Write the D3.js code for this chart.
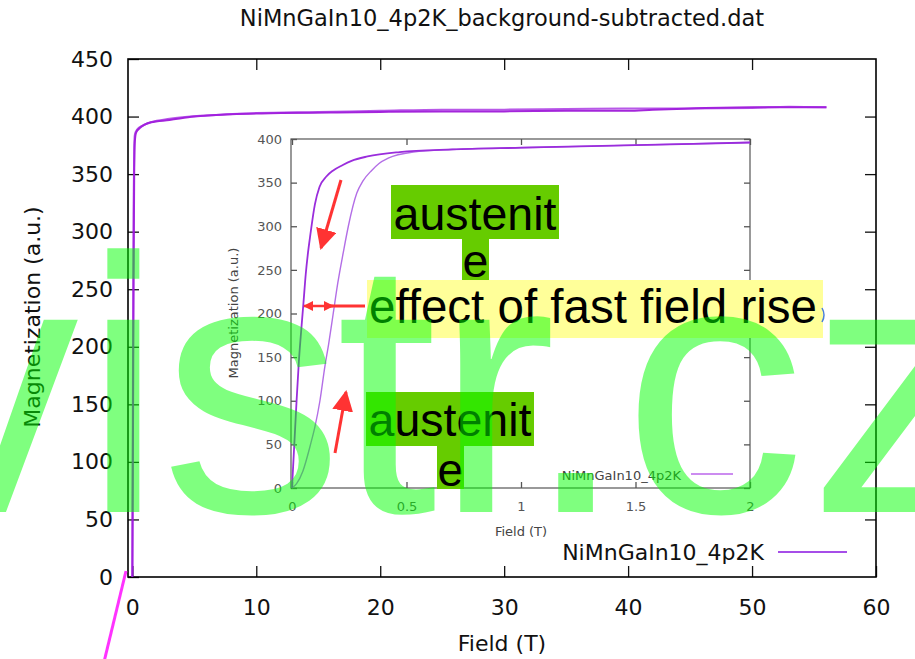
<!DOCTYPE html>
<html>
<head>
<meta charset="utf-8">
<script src="https://cdn.jsdelivr.net/npm/d3@7"></script>
<style>
  html, body { margin: 0; padding: 0; background: #fff; }
  svg { display: block; }
</style>
</head>
<body>
<script>
// --- data ---
const mainXTicks = [0, 10, 20, 30, 40, 50, 60];
const mainYTicks = [0, 50, 100, 150, 200, 250, 300, 350, 400, 450];
const insetXTicks = [0, 0.5, 1, 1.5, 2];
const insetYTicks = [0, 50, 100, 150, 200, 250, 300, 350, 400];

// full pulse, rising and falling branch
const mainUpField = [0, 0.05, 0.1, 0.15, 0.2, 0.3, 0.6, 1, 1.5, 3, 5, 8, 12, 16, 20, 25, 30, 35, 40, 42, 45, 50, 53, 56];
const mainUpMag   = [0, 120, 260, 350, 378, 386, 390, 393, 395, 397, 400, 402, 403, 403.5, 404, 404.5, 404.5, 405, 405, 406, 407, 408, 408, 408];
const mainDownField = [0, 0.05, 0.1, 0.15, 0.2, 0.4, 0.8, 1.5, 3, 6, 10, 15, 20, 25, 30, 35, 40, 45, 50, 53, 56];
const mainDownMag   = [0, 180, 320, 372, 384, 389, 392, 395, 398, 401, 403, 404, 405, 406, 406, 406.5, 407, 407, 407.5, 408.5, 408];

// zoom of the low-field part
const insetUpField = [0, 0.02, 0.047, 0.08, 0.1, 0.122, 0.144, 0.16, 0.18, 0.2, 0.224, 0.246, 0.283, 0.31, 0.348, 0.38, 0.42, 0.53, 0.7, 1, 1.5, 2];
const insetUpMag   = [0, 5, 19, 49, 70, 100, 140, 165, 200, 235, 270, 300, 338, 352, 364, 372, 378, 385, 388, 390, 393, 396];
const insetDownField = [0, 0.01, 0.02, 0.03, 0.04, 0.05, 0.06, 0.07, 0.08, 0.1, 0.12, 0.15, 0.18, 0.22, 0.26, 0.33, 0.47, 0.7, 1, 1.5, 2];
const insetDownMag   = [0, 50, 100, 145, 180, 212, 245, 270, 290, 325, 345, 357, 364, 370, 375, 380, 385, 388, 390, 393, 396];

const seriesName = "NiMnGaIn10_4p2K";
const titleText = "NiMnGaIn10_4p2K_background-subtracted.dat";

const width = 915;
const height = 659;
const mainFont = "DejaVu Sans, sans-serif";

const svg = d3.select("body").append("svg")
  .attr("width", width)
  .attr("height", height);

// ---------- main plot ----------
const main = { left: 128, right: 876, top: 59, bottom: 577 };
const x = d3.scaleLinear().domain([-0.35, 60]).range([main.left, main.right]);
const y = d3.scaleLinear().domain([0, 450]).range([main.bottom, main.top]);

function styleAxis(g, color, size) {
  g.select(".domain").remove();
  g.selectAll("line").attr("stroke", color).attr("stroke-width", 1.3);
  g.selectAll("text").attr("fill", color).style("font-family", mainFont).style("font-size", size + "px");
}

svg.append("g")
  .attr("transform", `translate(0,${main.bottom})`)
  .call(d3.axisBottom(x).tickValues(mainXTicks).tickSizeInner(-11).tickSizeOuter(0).tickPadding(22))
  .call(g => styleAxis(g, "#111", 22));
svg.append("g")
  .attr("transform", `translate(0,${main.top})`)
  .call(d3.axisTop(x).tickValues(mainXTicks.slice(1, -1)).tickSizeInner(-11).tickSizeOuter(0).tickFormat(""))
  .call(g => styleAxis(g, "#111", 22));
svg.append("g")
  .attr("transform", `translate(${main.left},0)`)
  .call(d3.axisLeft(y).tickValues(mainYTicks).tickSizeInner(-11).tickSizeOuter(0).tickPadding(15))
  .call(g => styleAxis(g, "#111", 22));
svg.append("g")
  .attr("transform", `translate(${main.right},0)`)
  .call(d3.axisRight(y).tickValues(mainYTicks.slice(1, -1)).tickSizeInner(-11).tickSizeOuter(0).tickFormat(""))
  .call(g => styleAxis(g, "#111", 22));

svg.append("rect")
  .attr("x", main.left).attr("y", main.top)
  .attr("width", main.right - main.left).attr("height", main.bottom - main.top)
  .attr("fill", "none").attr("stroke", "#000").attr("stroke-width", 1.6);

const mainLine = d3.line().x(d => x(d[0])).y(d => y(d[1])).curve(d3.curveMonotoneX);
svg.append("path")
  .datum(d3.zip(mainUpField, mainUpMag))
  .attr("d", mainLine)
  .attr("fill", "none").attr("stroke", "#9400d3").attr("stroke-width", 2).attr("stroke-opacity", 0.85);
svg.append("path")
  .datum(d3.zip(mainDownField, mainDownMag))
  .attr("d", mainLine)
  .attr("fill", "none").attr("stroke", "#a020e0").attr("stroke-width", 2).attr("stroke-opacity", 0.75);

// titles
svg.append("text")
  .attr("x", 502).attr("y", 26)
  .attr("text-anchor", "middle")
  .style("font-family", mainFont).style("font-size", "22.5px").attr("fill", "#111")
  .text(titleText);
svg.append("text")
  .attr("x", 502).attr("y", 651)
  .attr("text-anchor", "middle")
  .style("font-family", mainFont).style("font-size", "22px").attr("fill", "#111")
  .text("Field (T)");
svg.append("text")
  .attr("transform", "translate(40,317) rotate(-90)")
  .attr("text-anchor", "middle")
  .style("font-family", mainFont).style("font-size", "22px").attr("fill", "#111")
  .text("Magnetization (a.u.)");

// main legend
svg.append("text")
  .attr("x", 764).attr("y", 560)
  .attr("text-anchor", "end")
  .style("font-family", mainFont).style("font-size", "22px").attr("fill", "#111")
  .text(seriesName);
svg.append("line")
  .attr("x1", 778).attr("x2", 847).attr("y1", 552).attr("y2", 552)
  .attr("stroke", "#a64ee8").attr("stroke-width", 2);

// ---------- inset ----------
const ins = { left: 291, right: 750, top: 139, bottom: 488 };
const ix = d3.scaleLinear().domain([0, 2]).range([ins.left + 1, ins.right]);
const iy = d3.scaleLinear().domain([0, 400]).range([ins.bottom, ins.top]);
const insetColor = "#555";

svg.append("g")
  .attr("transform", `translate(0,${ins.bottom})`)
  .call(d3.axisBottom(ix).tickValues(insetXTicks).tickSizeInner(-6).tickSizeOuter(0).tickPadding(14).tickFormat(d3.format("~g")))
  .call(g => styleAxis(g, insetColor, 13));
svg.append("g")
  .attr("transform", `translate(0,${ins.top})`)
  .call(d3.axisTop(ix).tickValues(insetXTicks).tickSizeInner(-6).tickSizeOuter(0).tickFormat(""))
  .call(g => styleAxis(g, insetColor, 13));
svg.append("g")
  .attr("transform", `translate(${ins.left},0)`)
  .call(d3.axisLeft(iy).tickValues(insetYTicks).tickSizeInner(-6).tickSizeOuter(0).tickPadding(9))
  .call(g => styleAxis(g, insetColor, 13));
svg.append("g")
  .attr("transform", `translate(${ins.right},0)`)
  .call(d3.axisRight(iy).tickValues(insetYTicks).tickSizeInner(-6).tickSizeOuter(0).tickFormat(""))
  .call(g => styleAxis(g, insetColor, 13));

svg.append("rect")
  .attr("x", ins.left).attr("y", ins.top)
  .attr("width", ins.right - ins.left).attr("height", ins.bottom - ins.top)
  .attr("fill", "none").attr("stroke", insetColor).attr("stroke-width", 1.2);

const insetLine = d3.line().x(d => ix(d[0])).y(d => iy(d[1])).curve(d3.curveMonotoneX);
svg.append("path")
  .datum(d3.zip(insetUpField, insetUpMag))
  .attr("d", insetLine)
  .attr("fill", "none").attr("stroke", "#b36ee6").attr("stroke-width", 1.4);
svg.append("path")
  .datum(d3.zip(insetDownField, insetDownMag))
  .attr("d", insetLine)
  .attr("fill", "none").attr("stroke", "#9a2ddc").attr("stroke-width", 1.8);

svg.append("text")
  .attr("x", 521).attr("y", 536)
  .attr("text-anchor", "middle")
  .style("font-family", mainFont).style("font-size", "13px").attr("fill", "#444")
  .text("Field (T)");
svg.append("text")
  .attr("transform", "translate(238,313) rotate(-90)")
  .attr("text-anchor", "middle")
  .style("font-family", mainFont).style("font-size", "13px").attr("fill", "#444")
  .text("Magnetization (a.u.)");
svg.append("text")
  .attr("x", 681).attr("y", 480)
  .attr("text-anchor", "end")
  .style("font-family", mainFont).style("font-size", "13px").attr("fill", "#444")
  .text(seriesName);
svg.append("line")
  .attr("x1", 691).attr("x2", 733).attr("y1", 474).attr("y2", 474)
  .attr("stroke", "#cc8cf0").attr("stroke-width", 2);

// ---------- annotations ----------
const noteFont = "Liberation Sans, Arial, sans-serif";
const green = "#66cc00";
const yellow = "#ffff99";
const red = "#ff3333";

function boxText(rx, ry, rw, rh, fill, tx, ty, size, label, anchor) {
  svg.append("rect").attr("x", rx).attr("y", ry).attr("width", rw).attr("height", rh).attr("fill", fill);
  svg.append("text")
    .attr("x", tx).attr("y", ty)
    .attr("text-anchor", anchor || "middle")
    .style("font-family", noteFont).style("font-size", size + "px").attr("fill", "#000")
    .text(label);
}

// upper "austenite" (wrapped)
boxText(391, 185, 168, 54, green, 475, 230, 46.5, "austenit");
boxText(462, 239, 27, 42, green, 475.5, 277, 46.5, "e");
// yellow label
boxText(367, 280, 456, 58, yellow, 369, 323, 47.5, "effect of fast field rise", "start");
svg.append("path")
  .attr("d", "M822,308 Q826,315 822,322")
  .attr("fill", "none").attr("stroke", "#4a7fd8").attr("stroke-width", 1.5);
// lower "austenite"
boxText(366, 392, 168, 54, green, 450, 436, 46.5, "austenit");
boxText(437, 446, 27, 43, green, 450.5, 486, 46.5, "e");

// red arrows
const defs = svg.append("defs");
defs.append("marker")
  .attr("id", "head").attr("viewBox", "0 0 10 10")
  .attr("refX", 9).attr("refY", 5)
  .attr("markerWidth", 7).attr("markerHeight", 7)
  .attr("markerUnits", "strokeWidth")
  .attr("orient", "auto-start-reverse")
  .append("path").attr("d", "M0,0 L10,5 L0,10 Z").attr("fill", red);
defs.append("marker")
  .attr("id", "small").attr("viewBox", "0 0 10 10")
  .attr("refX", 9).attr("refY", 5)
  .attr("markerWidth", 4).attr("markerHeight", 4)
  .attr("markerUnits", "strokeWidth")
  .attr("orient", "auto-start-reverse")
  .append("path").attr("d", "M0,0 L10,5 L0,10 Z").attr("fill", red);

svg.append("line")
  .attr("x1", 341).attr("y1", 180).attr("x2", 321).attr("y2", 248)
  .attr("stroke", red).attr("stroke-width", 3).attr("marker-end", "url(#head)");
svg.append("line")
  .attr("x1", 335).attr("y1", 453).attr("x2", 346).attr("y2", 392)
  .attr("stroke", red).attr("stroke-width", 3).attr("marker-end", "url(#head)");
svg.append("line")
  .attr("x1", 304).attr("y1", 306).attr("x2", 333).attr("y2", 306)
  .attr("stroke", red).attr("stroke-width", 2.5)
  .attr("marker-start", "url(#small)").attr("marker-end", "url(#small)");
svg.append("line")
  .attr("x1", 330).attr("y1", 306).attr("x2", 365).attr("y2", 306)
  .attr("stroke", red).attr("stroke-width", 3);

// ---------- watermark ----------
svg.append("text")
  .attr("x", "-103 83 161 336 435 525 623 809")
  .attr("y", 512)
  .style("font-family", noteFont).style("font-size", "364px")
  .attr("fill", "rgba(0,255,0,0.5)")
  .text("vistr.cz");

// magenta pointer at bottom left
svg.append("line")
  .attr("x1", 126).attr("y1", 571).attr("x2", 104).attr("y2", 662)
  .attr("stroke", "#ff33ff").attr("stroke-width", 3);
</script>
</body>
</html>
